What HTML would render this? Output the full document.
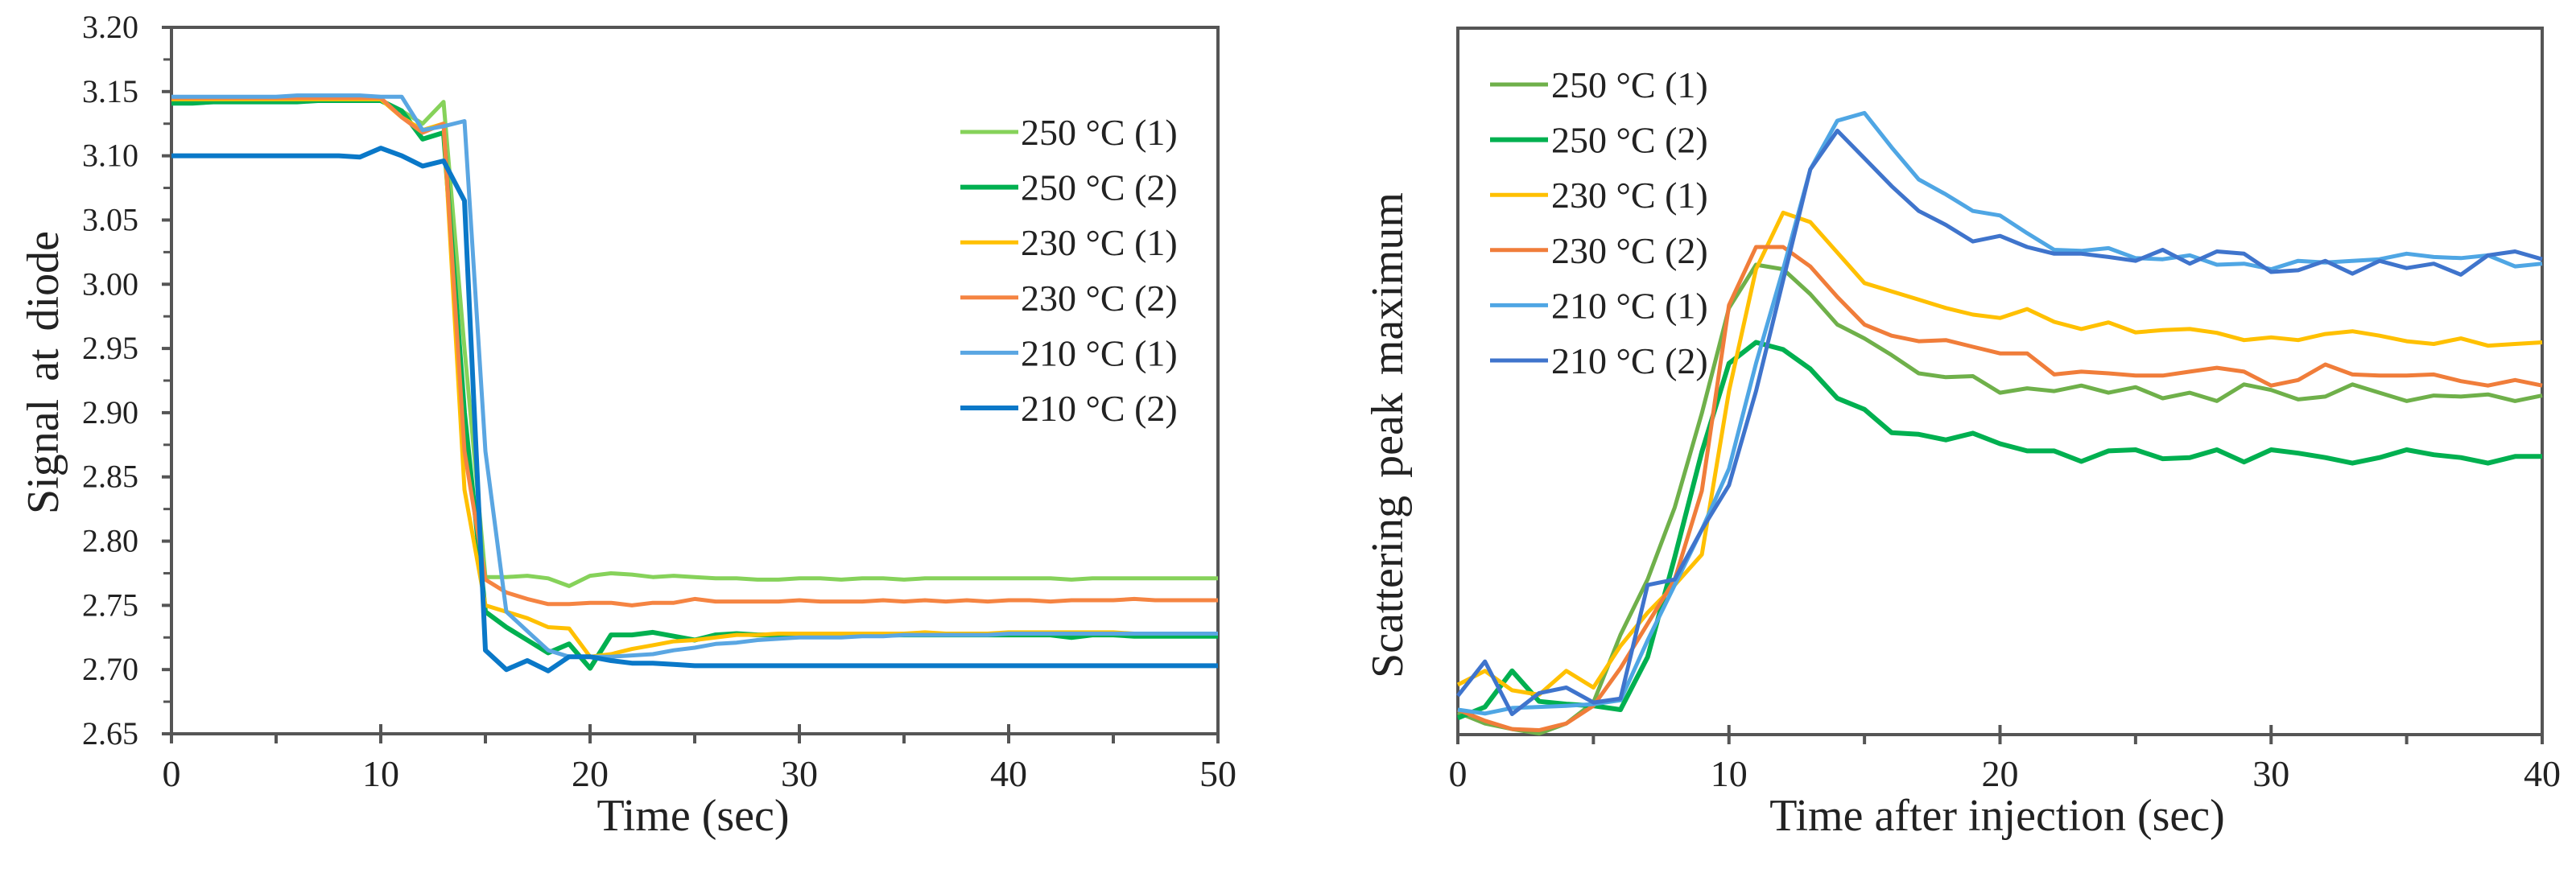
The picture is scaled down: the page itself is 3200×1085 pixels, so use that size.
<!DOCTYPE html>
<html><head><meta charset="utf-8"><style>
html,body{margin:0;padding:0;background:#fff;}
svg{display:block;}
text{font-family:"Liberation Serif","Times New Roman",serif;}
</style></head><body>
<svg id="fig" width="3200" height="1085" viewBox="0 0 3200 1085" xmlns="http://www.w3.org/2000/svg" font-family="Liberation Serif, serif">
<g id="left"></g>
<g id="right"></g>
</svg>
<script>
// ---- Left chart data ----
const leftX = [];
for (let i = 0; i <= 50; i++) leftX.push(i);
const leftYTicks = ["2.65","2.70","2.75","2.80","2.85","2.90","2.95","3.00","3.05","3.10","3.15","3.20"];
const leftXTicks = [0,10,20,30,40,50];
const l250a = [3.142,3.142,3.142,3.142,3.142,3.142,3.143,3.143,3.143,3.143,3.143,3.135,3.125,3.142,2.95,2.772,2.772,2.773,2.771,2.765,2.773,2.775,2.774,2.772,2.773,2.772,2.771,2.771,2.770,2.770,2.771,2.771,2.770,2.771,2.771,2.770,2.771,2.771,2.771,2.771,2.771,2.771,2.771,2.770,2.771,2.771,2.771,2.771,2.771,2.771,2.771];
const l250b = [3.141,3.141,3.142,3.142,3.142,3.142,3.142,3.143,3.143,3.143,3.143,3.135,3.113,3.118,2.90,2.745,2.733,2.723,2.713,2.720,2.701,2.727,2.727,2.729,2.726,2.723,2.727,2.728,2.727,2.727,2.727,2.727,2.727,2.727,2.727,2.727,2.727,2.727,2.727,2.727,2.727,2.727,2.727,2.725,2.727,2.727,2.726,2.726,2.726,2.726,2.726];
const l230a = [3.144,3.144,3.144,3.144,3.144,3.144,3.144,3.144,3.144,3.144,3.144,3.130,3.120,3.125,2.84,2.750,2.745,2.740,2.733,2.732,2.710,2.712,2.716,2.719,2.722,2.723,2.725,2.727,2.727,2.728,2.728,2.728,2.728,2.728,2.728,2.728,2.729,2.728,2.728,2.728,2.729,2.729,2.729,2.729,2.729,2.729,2.728,2.728,2.728,2.728,2.728];
const l230b = [3.145,3.145,3.145,3.145,3.145,3.145,3.145,3.145,3.145,3.145,3.145,3.130,3.118,3.125,2.87,2.770,2.760,2.755,2.751,2.751,2.752,2.752,2.750,2.752,2.752,2.755,2.753,2.753,2.753,2.753,2.754,2.753,2.753,2.753,2.754,2.753,2.754,2.753,2.754,2.753,2.754,2.754,2.753,2.754,2.754,2.754,2.755,2.754,2.754,2.754,2.754];
const l210a = [3.146,3.146,3.146,3.146,3.146,3.146,3.147,3.147,3.147,3.147,3.146,3.146,3.120,3.123,3.127,2.87,2.745,2.730,2.715,2.710,2.710,2.710,2.711,2.712,2.715,2.717,2.720,2.721,2.723,2.724,2.725,2.725,2.725,2.726,2.726,2.727,2.727,2.727,2.727,2.727,2.728,2.728,2.728,2.728,2.728,2.728,2.728,2.728,2.728,2.728,2.728];
const l210b = [3.100,3.100,3.100,3.100,3.100,3.100,3.100,3.100,3.100,3.099,3.106,3.100,3.092,3.096,3.065,2.715,2.700,2.707,2.699,2.710,2.710,2.707,2.705,2.705,2.704,2.703,2.703,2.703,2.703,2.703,2.703,2.703,2.703,2.703,2.703,2.703,2.703,2.703,2.703,2.703,2.703,2.703,2.703,2.703,2.703,2.703,2.703,2.703,2.703,2.703,2.703];
const leftLabels = ["250 °C (1)","250 °C (2)","230 °C (1)","230 °C (2)","210 °C (1)","210 °C (2)"];

// ---- Right chart data ----
const rightX = [];
for (let i = 0; i <= 40; i++) rightX.push(i);
const rightXTicks = [0,10,20,30,40];
const r250a = [4,2,1,0.2,2,5.8,18,28,41,58,77,84.8,84,79.5,74,71.5,68.5,65.2,64.5,64.7,61.7,62.5,62,63,61.7,62.7,60.7,61.7,60.2,63.2,62.2,60.5,61,63.2,61.7,60.2,61.2,61,61.4,60.2,61.2];
const r250b = [3,5,11.5,6,5.5,5.2,4.5,14,32,51,67,70.8,69.5,66,60.7,58.7,54.5,54.2,53.2,54.4,52.5,51.2,51.2,49.3,51.2,51.4,49.8,50,51.4,49.2,51.4,50.8,50,49,50,51.4,50.5,50,49,50.2,50.2];
const r230a = [9,11.5,8,7.2,11.5,8.5,16,22,27,32.5,62,84,94.2,92.5,87,81.5,80,78.5,77,75.8,75.2,76.8,74.5,73.2,74.4,72.6,73,73.2,72.5,71.2,71.7,71.2,72.3,72.8,72,71,70.5,71.5,70.2,70.5,70.8];
const r230b = [4.5,2.5,1,0.8,2,5.2,12,20,28,44,77.5,88,88,84.5,79,74,72,71,71.2,70,68.8,68.8,65,65.5,65.2,64.8,64.8,65.5,66.2,65.5,63,64,66.8,65,64.8,64.8,65,63.8,63,64,63];
const r210a = [4.5,3.8,4.8,5,5.2,5.5,6.2,17,27,37,48,67,84,102,110.8,112.2,106,100.2,97.5,94.5,93.7,90.5,87.5,87.3,87.8,86,85.8,86.5,84.8,85,84,85.5,85.2,85.5,85.8,86.8,86.2,86,86.5,84.5,85];
const r210b = [7,13.2,3.7,7.5,8.5,5.8,6.5,27,28,37,45,62,82,102,109,104,99,94.5,92,89,90,88,86.8,86.8,86.2,85.5,87.5,85,87.2,86.8,83.5,83.8,85.5,83.2,85.5,84.2,85,83,86.5,87.2,85.8];
const rightLabels = ["250 °C (1)","250 °C (2)","230 °C (1)","230 °C (2)","210 °C (1)","210 °C (2)"];

const NS = "http://www.w3.org/2000/svg";
const FONT = "'Liberation Serif', 'Times New Roman', serif";
function mk(tag, attrs, parent) {
  const e = document.createElementNS(NS, tag);
  for (const k in attrs) e.setAttribute(k, attrs[k]);
  if (tag === "text") e.setAttribute("font-family", FONT);
  parent.appendChild(e);
  return e;
}
const AX = "#555";

// ===== Left chart =====
(function () {
  const g = document.getElementById("left");
  const x0 = 213, x1 = 1513, yT = 34, yB = 912;
  const xs = v => x0 + (v - 0) / 50 * (x1 - x0);
  const ys = v => yB - (v - 2.65) / 0.55 * (yB - yT);
  const fr = mk("rect", {x: x0, y: yT, width: x1 - x0, height: yB - yT, fill: "none", stroke: AX, "stroke-width": 4}, g);
  
  
  leftYTicks.forEach((t, i) => {
    const y = ys(parseFloat(t));
    const tk = mk("line", {x1: x0 - 12, x2: x0, y1: y, y2: y, stroke: AX, "stroke-width": 4}, g);
    
    
    if (i < leftYTicks.length - 1) {
      const ym = ys(parseFloat(t) + 0.025);
      const mt = mk("line", {x1: x0 - 10, x2: x0, y1: ym, y2: ym, stroke: AX, "stroke-width": 3}, g);
      
      
    }
    const tx = mk("text", {x: 172, y: y + 13, "text-anchor": "end", "font-size": 40, fill: "#222"}, g);
    tx.textContent = t;
    
    
  });
  for (let v = 0; v <= 50; v += 5) {
    const x = xs(v);
    const major = v % 10 === 0;
    const tk = mk("line", {x1: x, x2: x, y1: major ? yB - 12 : yB, y2: yB + 12, stroke: AX, "stroke-width": 4}, g);
    
    
  }
  leftXTicks.forEach(v => {
    const tx = mk("text", {x: xs(v), y: 977, "text-anchor": "middle", "font-size": 46, fill: "#222"}, g);
    tx.textContent = v;
    
    
  });
  const xt = mk("text", {x: 861, y: 1032, "text-anchor": "middle", "font-size": 56, fill: "#222"}, g);
  xt.textContent = "Time (sec)";
  
  
  const yt = mk("text", {x: 0, y: 0, "text-anchor": "middle", "font-size": 56, fill: "#222", "word-spacing": 8, transform: "translate(72,463) rotate(-90)"}, g);
  yt.textContent = "Signal at diode";
  
  
  const series = [l250a, l250b, l230a, l230b, l210a, l210b];
  const colors = ["#86D25A", "#00B050", "#FFC000", "#F58442", "#5AA6E2", "#0A78C8"];
  const widths = [5, 6, 5, 5, 5, 6];
  const names = ["series-250c-1","series-250c-2","series-230c-1","series-230c-2","series-210c-1","series-210c-2"];
  series.forEach((s, k) => {
    const d = s.map((v, i) => (i ? "L" : "M") + xs(leftX[i]).toFixed(1) + " " + ys(v).toFixed(1)).join(" ");
    const p = mk("path", {d: d, fill: "none", stroke: colors[k], "stroke-width": widths[k], "stroke-linejoin": "round"}, g);
    
    
  });
  leftLabels.forEach((lab, k) => {
    const y = 164 + k * 68.6;
    const ln = mk("line", {x1: 1193, x2: 1265, y1: y, y2: y, stroke: colors[k], "stroke-width": widths[k]}, g);
    
    
    const tx = mk("text", {x: 1268, y: y + 16, "font-size": 46, fill: "#222"}, g);
    tx.textContent = lab;
    
    
  });
})();

// ===== Right chart =====
(function () {
  const g = document.getElementById("right");
  const x0 = 1811, x1 = 3158, yT = 35, yB = 913;
  const xs = v => x0 + v / 40 * (x1 - x0);
  const ys = v => yB - v / 127.5 * (yB - yT);
  const fr = mk("rect", {x: x0, y: yT, width: x1 - x0, height: yB - yT, fill: "none", stroke: AX, "stroke-width": 4}, g);
  
  
  for (let v = 0; v <= 40; v += 5) {
    const x = xs(v);
    const major = v % 10 === 0;
    const tk = mk("line", {x1: x, x2: x, y1: major ? yB - 12 : yB, y2: yB + 12, stroke: AX, "stroke-width": 4}, g);
    
    
  }
  rightXTicks.forEach(v => {
    const tx = mk("text", {x: xs(v), y: 977, "text-anchor": "middle", "font-size": 46, fill: "#222"}, g);
    tx.textContent = v;
    
    
  });
  const xt = mk("text", {x: 2481, y: 1032, "text-anchor": "middle", "font-size": 56, fill: "#222"}, g);
  xt.textContent = "Time after injection (sec)";
  
  
  const yt = mk("text", {x: 0, y: 0, "text-anchor": "middle", "font-size": 56, fill: "#222", "word-spacing": 8, transform: "translate(1742,541) rotate(-90)"}, g);
  yt.textContent = "Scattering peak maximum";
  
  
  const series = [r250a, r250b, r230a, r230b, r210a, r210b];
  const colors = ["#6FB04A", "#00B050", "#FFC000", "#F07D3A", "#4FA6E4", "#3F74CC"];
  const widths = [5, 6, 5, 5, 5, 5];
  const names = ["series-250c-1","series-250c-2","series-230c-1","series-230c-2","series-210c-1","series-210c-2"];
  series.forEach((s, k) => {
    const d = s.map((v, i) => (i ? "L" : "M") + xs(rightX[i]).toFixed(1) + " " + ys(v).toFixed(1)).join(" ");
    const p = mk("path", {d: d, fill: "none", stroke: colors[k], "stroke-width": widths[k], "stroke-linejoin": "round"}, g);
    
    
  });
  rightLabels.forEach((lab, k) => {
    const y = 105 + k * 68.6;
    const ln = mk("line", {x1: 1851, x2: 1923, y1: y, y2: y, stroke: colors[k], "stroke-width": widths[k]}, g);
    
    
    const tx = mk("text", {x: 1927, y: y + 16, "font-size": 46, fill: "#222"}, g);
    tx.textContent = lab;
    
    
  });
})();
</script>
</body></html>
